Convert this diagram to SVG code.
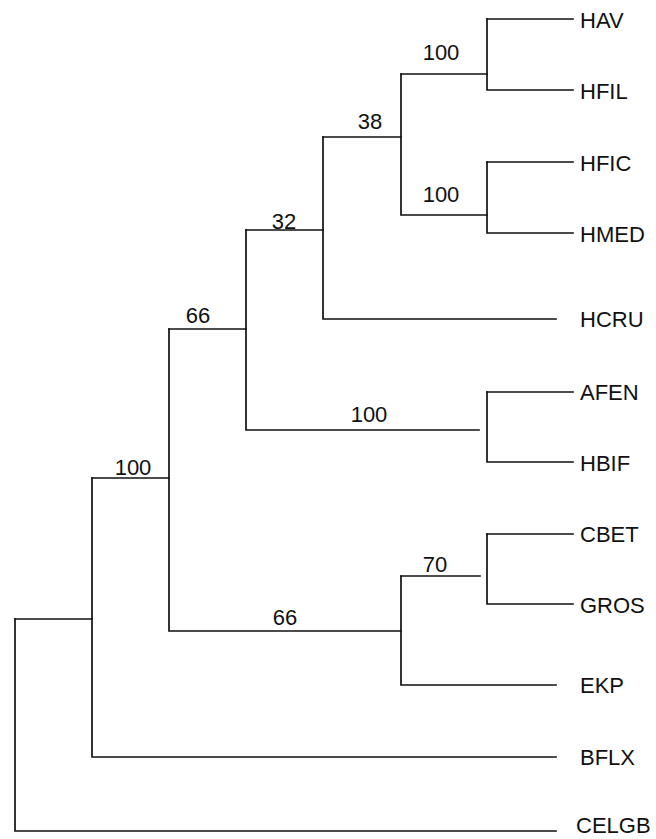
<svg xmlns="http://www.w3.org/2000/svg" width="656" height="839" viewBox="0 0 656 839">
<style>
.br{fill:none;stroke:#111;stroke-width:1.7;stroke-linecap:square}
.lf{font-family:"Liberation Sans",Arial,sans-serif;font-size:22px;fill:#111}
.sv{font-family:"Liberation Sans",Arial,sans-serif;font-size:22px;fill:#111;text-anchor:middle}
</style>
<rect width="656" height="839" fill="#fff"/>
<g id="connectors" class="br">
<path d="M15 619V831H556"/>
<path d="M15 619H92"/>
<path d="M92 478V757H556"/>
<path d="M92 478H169"/>
<path d="M169 329V631H401"/>
<path d="M169 329H246"/>
<path d="M246 230V430H479"/>
<path d="M246 230H323"/>
<path d="M323 137V319H556"/>
<path d="M323 137H401"/>
<path d="M401 74V215H487"/>
<path d="M401 74H487"/>
<path d="M487 19V90H573"/>
<path d="M487 19H573"/>
<path d="M487 162V233H573"/>
<path d="M487 162H573"/>
<path d="M487 392V462H573"/>
<path d="M487 392H573"/>
<path d="M401 576V685H556"/>
<path d="M401 576H480"/>
<path d="M487 534V604H573"/>
<path d="M487 534H573"/>
</g>
<g id="support">
<text class="sv" x="441" y="60">100</text>
<text class="sv" x="441" y="202">100</text>
<text class="sv" x="370" y="129">38</text>
<text class="sv" x="284" y="229">32</text>
<text class="sv" x="198" y="323">66</text>
<text class="sv" x="369" y="422">100</text>
<text class="sv" x="133" y="475">100</text>
<text class="sv" x="435" y="572">70</text>
<text class="sv" x="285" y="625">66</text>
</g>
<g id="HAV"><text class="lf" x="580" y="28">HAV</text></g>
<g id="HFIL"><text class="lf" x="580" y="99">HFIL</text></g>
<g id="HFIC"><text class="lf" x="580" y="171">HFIC</text></g>
<g id="HMED"><text class="lf" x="580" y="242">HMED</text></g>
<g id="HCRU"><text class="lf" x="580" y="327">HCRU</text></g>
<g id="AFEN"><text class="lf" x="580" y="400">AFEN</text></g>
<g id="HBIF"><text class="lf" x="580" y="471">HBIF</text></g>
<g id="CBET"><text class="lf" x="580" y="542">CBET</text></g>
<g id="GROS"><text class="lf" x="580" y="613">GROS</text></g>
<g id="EKP"><text class="lf" x="580" y="693">EKP</text></g>
<g id="BFLX"><text class="lf" x="580" y="765">BFLX</text></g>
<g id="CELGB"><text class="lf" x="576" y="833">CELGB</text></g>
</svg>
